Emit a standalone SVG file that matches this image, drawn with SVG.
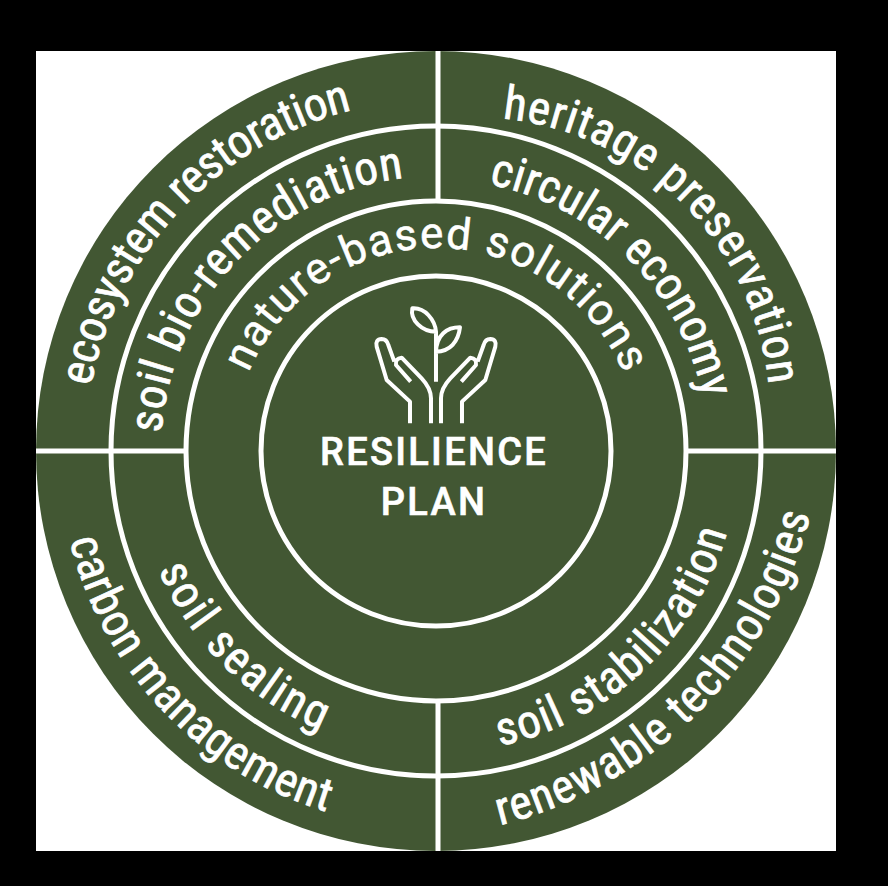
<svg xmlns="http://www.w3.org/2000/svg" width="888" height="886" viewBox="0 0 888 886">
<style>
.ring{fill:none;stroke:#fff;stroke-width:5}
.t{font-family:"Liberation Sans Narrow","Roboto Condensed","Liberation Sans",sans-serif;font-size:47px;fill:#fff;stroke:#fff;stroke-width:.7px;text-anchor:middle}
.n{font-family:"Roboto","Liberation Sans",sans-serif;font-size:44px;fill:#fff;stroke:#fff;stroke-width:.5px;text-anchor:middle}
.c{font-family:"Roboto","Liberation Sans",sans-serif;font-size:38px;font-weight:500;letter-spacing:2.300px;fill:#fff;stroke:#fff;stroke-width:.6px;text-anchor:middle}
.ic{fill:none;stroke:#fff;stroke-width:12;stroke-linejoin:round}
.d{stroke:#fff;stroke-width:5}
</style>
<defs>
<path id="c351" d="M436 802A351 351 0 1 1 436 100A351 351 0 1 1 436 802"/>
<path id="c275" d="M436 726A275 275 0 1 1 436 176A275 275 0 1 1 436 726"/>
<path id="c272" d="M436 723A272 272 0 1 1 436 179A272 272 0 1 1 436 723"/>
<path id="c203" d="M436 654A203 203 0 1 1 436 248A203 203 0 1 1 436 654"/>
<path id="her" d="M473 711A297 297 0 1 1 473 117A297 297 0 1 1 473 711"/>
<path id="a377" d="M436 74A377 377 0 1 0 436 828A377 377 0 1 0 436 74"/>
<path id="a302" d="M436 149A302 302 0 1 0 436 753A302 302 0 1 0 436 149"/>
<path id="ren" d="M396 -16A427 427 0 1 0 396 838A427 427 0 1 0 396 -16"/>
<g id="hand"><path class="ic" d="M180 400V335L110 270L80 170Q75 148 95 147Q110 147 115 165L133 215M182 275L138 225Q135 205 155 203L215 265Q243 295 243 325V400"/></g>
</defs>
<rect width="888" height="886" fill="#000"/>
<rect x="36" y="51" width="800" height="800" fill="#fff"/>
<circle cx="436" cy="451" r="400" fill="#425733"/>
<g id="connectors">
<line class="d" x1="438" y1="51" x2="438" y2="200"/>
<line class="d" x1="438" y1="702" x2="438" y2="851"/>
<line class="d" x1="36" y1="451" x2="186" y2="451"/>
<line class="d" x1="686" y1="451" x2="836" y2="451"/>
</g>
<g id="rings">
<circle class="ring" cx="436" cy="451" r="175"/>
<circle class="ring" cx="436" cy="451" r="250"/>
<circle class="ring" cx="436" cy="451" r="325"/>
</g>
<g id="center">
<g transform="translate(350 290) scale(.3333)">
<use href="#hand"/>
<use href="#hand" transform="translate(516 0) scale(-1 1)"/>
<path class="ic" d="M258 275V125C255 90 225 52 187 55C180 90 215 125 258 125M258 185C300 185 325 155 330 112C290 112 260 135 258 185"/>
</g>
<text class="c" x="434" y="465">RESILIENCE</text>
<text class="c" x="434" y="515">PLAN</text>
</g>
<g id="n-ecosystem"><text class="t" transform="rotate(-46.600 436 451)"><textPath href="#c351" startOffset="50%" textLength="402">ecosystem restoration</textPath></text></g>
<g id="n-heritage"><text class="t" transform="rotate(45 473 414)"><textPath href="#her" startOffset="50%" textLength="408">heritage preservation</textPath></text></g>
<g id="n-soilbio"><text class="t" transform="rotate(-46.500 436 451)"><textPath href="#c275" startOffset="50%" textLength="382">soil bio-remediation</textPath></text></g>
<g id="n-circular"><text class="t" transform="rotate(45 436 451)"><textPath href="#c272" startOffset="50%" textLength="321">circular economy</textPath></text></g>
<g id="n-nature"><text class="n" transform="rotate(0.100 436 451)"><textPath href="#c203" startOffset="50%" textLength="478">nature-based solutions</textPath></text></g>
<g id="n-carbon"><text class="t" transform="rotate(46.600 436 451)"><textPath href="#a377" startOffset="50%" textLength="391">carbon management</textPath></text></g>
<g id="n-sealing"><text class="t" transform="rotate(44.600 436 451)"><textPath href="#a302" startOffset="50%" textLength="234">soil sealing</textPath></text></g>
<g id="n-stabilization"><text class="t" transform="rotate(-43.300 436 451)"><textPath href="#a302" startOffset="50%" textLength="328">soil stabilization</textPath></text></g>
<g id="n-renewable"><text class="t" transform="rotate(-45 396 411)"><textPath href="#ren" startOffset="50%" textLength="461">renewable technologies</textPath></text></g>
</svg>
